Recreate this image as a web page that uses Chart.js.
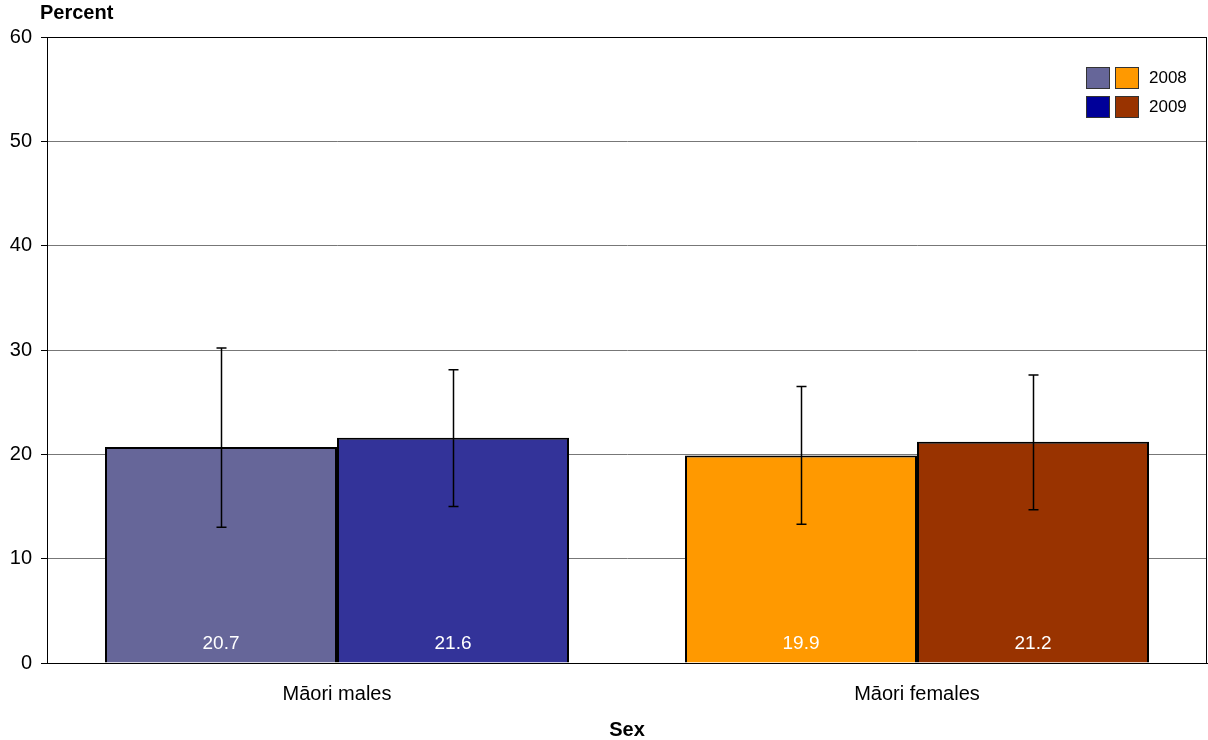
<!DOCTYPE html>
<html>
<head>
<meta charset="utf-8">
<style>
  html, body { margin: 0; padding: 0; background: #fff; }
  #wrap { position: relative; width: 1208px; height: 740px; }
</style>
<script src="https://cdn.jsdelivr.net/npm/chart.js@4/dist/chart.umd.min.js"></script>
</head>
<body>
<div id="wrap"><canvas id="chart" width="1208" height="740"></canvas></div>
<script>
const categories = ["Māori males", "Māori females"];
const years = ["2008", "2009"];
const values2008 = [20.7, 19.9];
const values2009 = [21.6, 21.2];
const low2008 = [13.0, 13.3];
const high2008 = [30.2, 26.5];
const low2009 = [15.0, 14.7];
const high2009 = [28.1, 27.6];
const yTicks = [0, 10, 20, 30, 40, 50, 60];

const colors2008 = ["#666699", "#FF9900"];
const colors2009 = ["#333399", "#993300"];
const legendColors = [["#666699", "#FF9900"], ["#000099", "#993300"]];

const FONT = "'Liberation Sans', Arial, sans-serif";

// error bars drawn on top of each bar from the low/high arrays
const errorBars = {
  id: "errorBars",
  afterDatasetsDraw(chart) {
    const ctx = chart.ctx;
    const y = chart.scales.y;
    const ranges = [[low2008, high2008], [low2009, high2009]];
    ctx.save();
    ctx.strokeStyle = "#000";
    ctx.lineWidth = 1.5;
    chart.data.datasets.forEach((ds, di) => {
      chart.getDatasetMeta(di).data.forEach((bar, i) => {
        const x = Math.round(bar.x) + 0.5;
        const yl = y.getPixelForValue(ranges[di][0][i]);
        const yh = y.getPixelForValue(ranges[di][1][i]);
        ctx.beginPath();
        ctx.moveTo(x, yl); ctx.lineTo(x, yh);
        ctx.moveTo(x - 5, yl); ctx.lineTo(x + 5, yl);
        ctx.moveTo(x - 5, yh); ctx.lineTo(x + 5, yh);
        ctx.stroke();
      });
    });
    ctx.restore();
  }
};

// value labels, plot frame, legend and y title
const extras = {
  id: "extras",
  afterDraw(chart) {
    const ctx = chart.ctx;
    const area = chart.chartArea;
    const y = chart.scales.y;
    ctx.save();

    ctx.fillStyle = "#fff";
    ctx.font = "19px " + FONT;
    ctx.textAlign = "center";
    ctx.textBaseline = "middle";
    chart.data.datasets.forEach((ds, di) => {
      chart.getDatasetMeta(di).data.forEach((bar, i) => {
        ctx.fillText(ds.data[i].toFixed(1), bar.x, y.getPixelForValue(0) - 19);
      });
    });

    ctx.strokeStyle = "#000";
    ctx.lineWidth = 1;
    ctx.strokeRect(area.left + 0.5, area.top + 0.5, area.right - area.left - 1, area.bottom - area.top);

    ctx.fillStyle = "#000";
    ctx.font = "bold 20px " + FONT;
    ctx.textAlign = "left";
    ctx.textBaseline = "middle";
    ctx.fillText("Percent", 40, 13);

    ctx.font = "17px " + FONT;
    years.forEach((yr, r) => {
      const top = 67 + r * 29;
      legendColors[r].forEach((c, k) => {
        const left = 1086 + k * 29;
        ctx.fillStyle = c;
        ctx.fillRect(left, top, 24, 22);
        ctx.strokeStyle = "#333";
        ctx.strokeRect(left + 0.5, top + 0.5, 23, 21);
      });
      ctx.fillStyle = "#000";
      ctx.fillText(yr, 1149, top + 11);
    });
    ctx.restore();
  }
};

new Chart(document.getElementById("chart"), {
  type: "bar",
  data: {
    labels: categories,
    datasets: [
      { label: years[0], data: values2008, backgroundColor: colors2008, borderColor: "#000", borderWidth: 2 },
      { label: years[1], data: values2009, backgroundColor: colors2009, borderColor: "#000", borderWidth: 2 }
    ]
  },
  options: {
    responsive: false,
    animation: false,
    layout: { padding: { top: 37, right: 1, left: 0, bottom: 0 } },
    datasets: { bar: { categoryPercentage: 0.8, barPercentage: 1 } },
    plugins: { legend: { display: false }, tooltip: { enabled: false } },
    scales: {
      x: {
        grid: { display: false, drawTicks: false },
        border: { display: true, color: "#000" },
        ticks: { color: "#000", font: { family: FONT, size: 20 }, padding: 19 },
        title: { display: true, text: "Sex", color: "#000", font: { family: FONT, size: 20, weight: "bold", lineHeight: 1 }, padding: { top: 0, bottom: 0 } },
        afterFit(s) { s.height = 77; }
      },
      y: {
        min: 0,
        max: 60,
        afterBuildTicks(s) { s.ticks = yTicks.map(v => ({ value: v })); },
        grid: { color: "#777", tickColor: "#000", tickLength: 6 },
        border: { display: true, color: "#000" },
        ticks: { color: "#000", font: { family: FONT, size: 20 }, padding: 9 },
        afterFit(s) { s.width = 47; }
      }
    }
  },
  plugins: [errorBars, extras]
});
</script>
</body>
</html>
